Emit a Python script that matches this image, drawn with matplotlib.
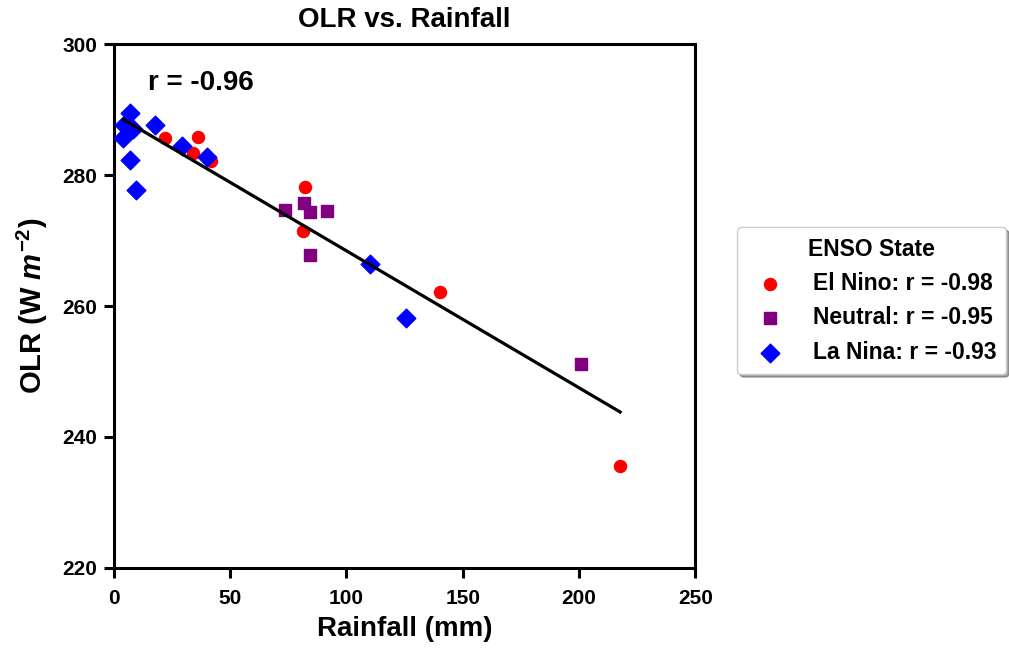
import numpy as np
import matplotlib
matplotlib.use('Agg')
import matplotlib.pyplot as plt

plt.rcParams['font.family'] = ['Liberation Sans', 'DejaVu Sans']
plt.rcParams['font.weight'] = 'bold'
plt.rcParams['mathtext.fontset'] = 'custom'
plt.rcParams['mathtext.rm'] = 'Liberation Sans:bold'
plt.rcParams['mathtext.it'] = 'Liberation Sans:italic:bold'
plt.rcParams['mathtext.bf'] = 'Liberation Sans:bold'

# Rainfall (mm) and OLR (W m-2) per ENSO state
elnino_rain = [21.9, 36.1, 34.0, 41.7, 82.2, 81.3, 140.3, 217.7]
elnino_olr = [285.6, 285.8, 283.4, 282.1, 278.2, 271.5, 262.1, 235.6]

neutral_rain = [73.6, 81.8, 84.3, 91.7, 84.3, 201.0]
neutral_olr = [274.7, 275.7, 274.4, 274.5, 267.8, 251.1]

lanina_rain = [6.9, 4.5, 8.0, 4.0, 17.6, 6.9, 9.5, 29.3, 40.0, 110.2, 125.6]
lanina_olr = [289.5, 287.6, 287.0, 285.7, 287.6, 282.3, 277.7, 284.4, 282.7, 266.4, 258.2]

labels = ['El Nino: r = -0.98', 'Neutral: r = -0.95', 'La Nina: r = -0.93']
r_all = 'r = -0.96'

fig = plt.figure(figsize=(10.09, 6.49), dpi=100)
ax = fig.add_axes([0.113, 0.125, 0.576, 0.807])

ax.scatter(elnino_rain, elnino_olr, color='red', marker='o', s=75, label=labels[0], zorder=3)
ax.scatter(neutral_rain, neutral_olr, color='purple', marker='s', s=70, label=labels[1], zorder=3)
ax.scatter(lanina_rain, lanina_olr, color='blue', marker='D', s=90, label=labels[2], zorder=3)

# linear fit over all points
x_all = np.array(elnino_rain + neutral_rain + lanina_rain)
y_all = np.array(elnino_olr + neutral_olr + lanina_olr)
slope, intercept = np.polyfit(x_all, y_all, 1)
xfit = np.array([x_all.min(), x_all.max()])
ax.plot(xfit, slope * xfit + intercept, color='black', lw=2.3, zorder=4)

ax.text(0.058, 0.925, r_all, transform=ax.transAxes, fontsize=20, fontweight='bold',
        va='center', ha='left')

ax.set_xlim(0, 250)
ax.set_ylim(220, 300)
ax.set_xticks([0, 50, 100, 150, 200, 250])
ax.set_yticks([220, 240, 260, 280, 300])
ax.set_title('OLR vs. Rainfall', fontsize=20, fontweight='bold', pad=12)
ax.set_xlabel('Rainfall (mm)', fontsize=20, fontweight='bold', labelpad=6)
ax.set_ylabel(r'OLR (W $m^{-2}$)', fontsize=21, fontweight='bold', labelpad=9)

for sp in ax.spines.values():
    sp.set_linewidth(2.2)
ax.tick_params(axis='both', width=2.2, length=7, labelsize=15)
ax.tick_params(axis='x', pad=8)
ax.tick_params(axis='y', pad=5)
for lab in ax.get_xticklabels() + ax.get_yticklabels():
    lab.set_fontweight('bold')

leg = ax.legend(title='ENSO State', loc='center left', bbox_to_anchor=(1.052, 0.51),
                fontsize=16.5, title_fontproperties={'weight': 'bold', 'size': 16.5},
                shadow=True, frameon=True, borderpad=0.45, handletextpad=0.85)
for t in leg.get_texts():
    t.set_fontweight('bold')

fig.savefig('out.png', dpi=100)
